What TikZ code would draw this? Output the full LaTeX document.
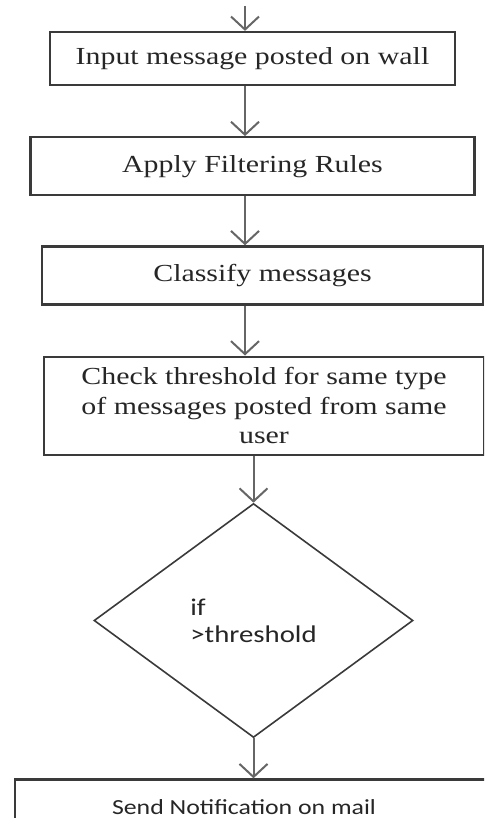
\documentclass[tikz,border=0pt]{standalone}
\usepackage{fontspec}
\setmainfont{Liberation Serif}[FakeStretch=1.22]
\newfontfamily\calfont{Carlito}[FakeStretch=1.2]
\usetikzlibrary{arrows.meta,positioning,shapes.geometric}

\definecolor{rahmen}{HTML}{3A3A3A}
\definecolor{pfeil}{HTML}{666666}

\begin{document}
\begin{tikzpicture}[x=1pt,y=1pt,
pile/.style={
  line width=2pt,
  draw=pfeil,
  -{Straight Barb[length=13pt,width=28pt,line width=2pt]}
},
knoten/.style={
  rectangle,
  line width=2.2pt,
  draw=rahmen,
  text=black!85,
  align=center,
  inner sep=4pt,
  font=\fontsize{24.5}{29.5}\selectfont
},
raute/.style={
  diamond,
  line width=1.6pt,
  draw=rahmen,
  text=black!85,
  align=left,
  font=\calfont\fontsize{24}{27}\selectfont
}]
\useasboundingbox (0,0) rectangle (484,-818);
\clip (0,0) rectangle (484,-818);

\coordinate (start) at (245,-6);
\node[knoten, minimum width=405pt, minimum height=53pt] (input) at (252.5,-58.5) {Input message posted on wall};
\node[knoten, minimum width=444pt, minimum height=58pt] (filter) [below=50pt of input] {Apply Filtering Rules};

\draw[pile] (start) -- (start |- input.north);
\draw[pile] (input.south -| start) -- (filter.north -| start);

\node[knoten, minimum width=441pt, minimum height=58pt] (classify) [below=49pt of filter, xshift=10pt] {Classify messages};
\node[knoten, minimum width=440pt, minimum height=98pt] (check) [below=50pt of classify, xshift=1.5pt] {Check threshold for same type\\of messages posted from same\\user};

\draw[pile] (filter.south -| start) -- (classify.north -| start);
\draw[pile] (classify.south -| start) -- (check.north -| start);

\node[raute, minimum width=319pt, minimum height=234pt] (ifthr) [below=47pt of check, xshift=-10.5pt] {if\\>threshold};
\node[knoten, inner xsep=0pt, minimum height=56pt, font=\calfont\fontsize{21.5}{26}\selectfont] (notify) [below=40pt of ifthr, xshift=14.5pt] {\makebox[506pt][l]{\makebox[458pt]{Send Notification on mail}}};

\draw[pile] (check.south -| ifthr.north) -- (ifthr.north);
\draw[pile] (ifthr.south) -- (ifthr.south |- notify.north);

\end{tikzpicture}
\end{document}
